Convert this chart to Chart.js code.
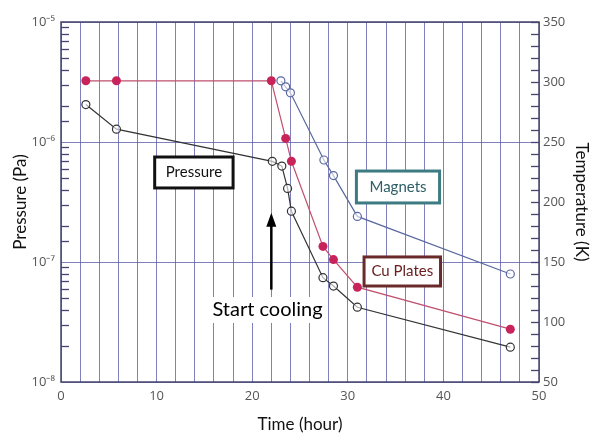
<!DOCTYPE html>
<html>
<head>
<meta charset="utf-8">
<script src="https://cdn.jsdelivr.net/npm/chart.js@4"></script>
<style>
  html, body { margin: 0; padding: 0; background: #fff; }
  #chart { display: block; }
</style>
</head>
<body>
<canvas id="chart" width="596" height="435"></canvas>
<script>
// values
var pressureTime = [2.6, 5.8, 22.1, 23.1, 23.7, 24.1, 27.4, 28.5, 31.0, 47.0];
var pressurePa = [2.05e-6, 1.28e-6, 6.9e-7, 6.3e-7, 4.1e-7, 2.65e-7, 7.4e-8, 6.3e-8, 4.2e-8, 1.95e-8];
var cuTime = [2.6, 5.8, 22.0, 23.5, 24.1, 27.4, 28.5, 31.0, 47.0];
var cuTempK = [301, 301, 301, 253, 234, 163, 152, 129, 94];
var magnetTime = [23.0, 23.5, 24.0, 27.5, 28.5, 31.0, 47.0];
var magnetTempK = [301, 296, 291, 235, 222, 188, 140];

var supers = { '-': '\u207B', '0': '\u2070', '1': '\u00B9', '2': '\u00B2', '3': '\u00B3', '4': '\u2074',
               '5': '\u2075', '6': '\u2076', '7': '\u2077', '8': '\u2078', '9': '\u2079' };

function pairs(xs, ys) {
    return xs.map(function (x, i) { return { x: x, y: ys[i] }; });
}

function isDecade(v) {
    var e = Math.log10(v);
    return Math.abs(e - Math.round(e)) < 1e-6;
}

var gridBlue = 'rgba(85, 85, 165, 0.75)';
var frame = '#44446e';
var labelFont = "'Lato', 'Open Sans', sans-serif";

// text boxes and arrow, placed in time / temperature units
var notes = [
    { text: 'Pressure', x0: 9.8, x1: 18.0, y0: 237.5, y1: 211.7, border: '#111', color: '#111', width: 3 },
    { text: 'Magnets', x0: 30.9, x1: 39.6, y0: 225.8, y1: 199.2, border: '#3d7b82', color: '#2e5e66', width: 3 },
    { text: 'Cu Plates', x0: 31.7, x1: 39.7, y0: 154.2, y1: 130.0, border: '#6a2a2a', color: '#6a2020', width: 3 }
];

var notesPlugin = {
    id: 'notes',
    afterDraw: function (chart) {
        var ctx = chart.ctx;
        var xs = chart.scales.x, ts = chart.scales.y1, ps = chart.scales.y;
        var area = chart.chartArea;
        ctx.save();
        // inner ticks, left log axis (minor ones only)
        ctx.strokeStyle = frame;
        ctx.lineWidth = 1.3;
        ps.ticks.forEach(function (t) {
            if (isDecade(t.value)) return;
            var y = Math.round(ps.getPixelForValue(t.value)) + 0.5;
            ctx.beginPath();
            ctx.moveTo(area.left, y);
            ctx.lineTo(area.left + 8, y);
            ctx.stroke();
        });
        // inner ticks, right temperature axis
        ts.ticks.forEach(function (t) {
            var y = Math.round(ts.getPixelForValue(t.value)) + 0.5;
            ctx.beginPath();
            ctx.moveTo(area.right - 8, y);
            ctx.lineTo(area.right, y);
            ctx.stroke();
        });
        // frame
        ctx.lineWidth = 1.5;
        ctx.strokeRect(area.left, area.top, area.right - area.left, area.bottom - area.top);

        notes.forEach(function (n) {
            var l = xs.getPixelForValue(n.x0), r = xs.getPixelForValue(n.x1);
            var t = ts.getPixelForValue(n.y0), b = ts.getPixelForValue(n.y1);
            ctx.fillStyle = '#fff';
            ctx.fillRect(l, t, r - l, b - t);
            ctx.strokeStyle = n.border;
            ctx.lineWidth = n.width;
            ctx.strokeRect(l, t, r - l, b - t);
            ctx.fillStyle = n.color;
            ctx.font = '15px ' + labelFont;
            ctx.textAlign = 'center';
            ctx.textBaseline = 'middle';
            ctx.fillText(n.text, (l + r) / 2, (t + b) / 2);
        });

        // arrow at start of cooling
        var ax = xs.getPixelForValue(22.0);
        var aTop = ts.getPixelForValue(191), aBot = ts.getPixelForValue(127);
        ctx.strokeStyle = '#000';
        ctx.fillStyle = '#000';
        ctx.lineWidth = 2.5;
        ctx.beginPath();
        ctx.moveTo(ax, aBot);
        ctx.lineTo(ax, aTop + 10);
        ctx.stroke();
        ctx.beginPath();
        ctx.moveTo(ax, aTop);
        ctx.lineTo(ax - 5, aTop + 14);
        ctx.lineTo(ax + 5, aTop + 14);
        ctx.closePath();
        ctx.fill();

        ctx.font = '20px ' + labelFont;
        ctx.textAlign = 'center';
        ctx.textBaseline = 'middle';
        var sx = xs.getPixelForValue(21.6), sy = ts.getPixelForValue(110);
        ctx.fillStyle = '#fff';
        ctx.fillRect(sx - 60, sy - 13, 120, 26);
        ctx.fillStyle = '#000';
        ctx.fillText('Start cooling', sx, sy);
        ctx.restore();
    }
};

var ctx = document.getElementById('chart').getContext('2d');
var chart = new Chart(ctx, {
    type: 'line',
    data: {
        datasets: [{
            label: 'Pressure',
            data: pairs(pressureTime, pressurePa),
            yAxisID: 'y',
            borderColor: '#333',
            borderWidth: 1.2,
            pointRadius: 4,
            pointBorderWidth: 1.2,
            pointBorderColor: '#333',
            pointBackgroundColor: 'rgba(255,255,255,0.6)',
            tension: 0
        }, {
            label: 'Cu Plates',
            data: pairs(cuTime, cuTempK),
            yAxisID: 'y1',
            borderColor: '#c0506e',
            borderWidth: 1.2,
            pointRadius: 4.5,
            pointBorderWidth: 0,
            pointBackgroundColor: '#c8245a',
            tension: 0
        }, {
            label: 'Magnets',
            data: pairs(magnetTime, magnetTempK),
            yAxisID: 'y1',
            borderColor: '#5a68a0',
            borderWidth: 1.2,
            pointRadius: 4,
            pointBorderWidth: 1.2,
            pointBorderColor: '#5a68a0',
            pointBackgroundColor: 'rgba(255,255,255,0.6)',
            tension: 0
        }]
    },
    options: {
        responsive: false,
        animation: false,
        layout: { padding: { top: 22, left: 0, right: 0, bottom: 0 } },
        plugins: {
            legend: { display: false },
            tooltip: { enabled: false }
        },
        scales: {
            x: {
                type: 'linear',
                min: 0,
                max: 50,
                afterFit: function (s) { s.height = 53; },
                grid: { color: gridBlue, lineWidth: 1, drawTicks: false },
                border: { display: false },
                ticks: {
                    stepSize: 2,
                    autoSkip: false,
                    maxRotation: 0,
                    padding: 6,
                    color: '#555',
                    font: { family: "'Open Sans', sans-serif", size: 13 },
                    callback: function (v) { return v % 10 === 0 ? v : ''; }
                },
                title: {
                    display: true,
                    text: 'Time (hour)',
                    color: '#111',
                    font: { family: labelFont, size: 17 },
                    padding: { top: 4, bottom: 0 }
                }
            },
            y: {
                type: 'logarithmic',
                position: 'left',
                min: 1e-8,
                max: 1e-5,
                afterFit: function (s) { s.width = 61; },
                grid: {
                    drawTicks: false,
                    color: function (c) { return c.tick && isDecade(c.tick.value) ? gridBlue : 'rgba(0,0,0,0)'; }
                },
                border: { display: false },
                ticks: {
                    autoSkip: false,
                    padding: 6,
                    color: '#555',
                    font: { family: "'Open Sans', sans-serif", size: 13 },
                    callback: function (v) {
                        if (!isDecade(v)) return '';
                        var e = String(Math.round(Math.log10(v)));
                        return '10' + e.split('').map(function (c) { return supers[c]; }).join('');
                    }
                },
                title: {
                    display: true,
                    text: 'Pressure (Pa)',
                    color: '#111',
                    font: { family: labelFont, size: 17 },
                    padding: { top: 10, bottom: 4 }
                }
            },
            y1: {
                type: 'linear',
                position: 'right',
                min: 50,
                max: 350,
                afterFit: function (s) { s.width = 57; },
                grid: { drawOnChartArea: false, drawTicks: false },
                border: { display: false },
                ticks: {
                    stepSize: 10,
                    autoSkip: false,
                    padding: 4,
                    color: '#555',
                    font: { family: "'Open Sans', sans-serif", size: 13 },
                    callback: function (v) { return v % 50 === 0 ? v : ''; }
                },
                title: {
                    display: true,
                    text: 'Temperature (K)',
                    color: '#111',
                    font: { family: labelFont, size: 17 },
                    padding: { top: 4, bottom: 4 }
                }
            }
        }
    },
    plugins: [notesPlugin]
});
</script>
</body>
</html>
